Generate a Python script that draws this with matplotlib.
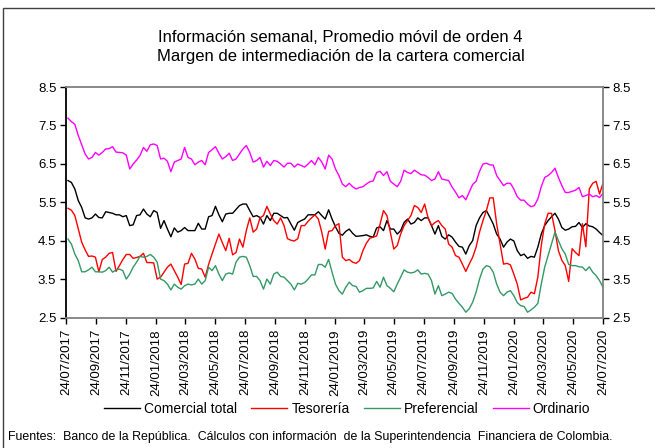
import matplotlib
matplotlib.use("Agg")
import matplotlib.pyplot as plt
import matplotlib.dates as mdates
import numpy as np
import pandas as pd
from matplotlib.patches import Rectangle

plt.rcParams['font.family'] = ['Liberation Sans', 'DejaVu Sans']

title = "Información semanal, Promedio móvil de orden 4\nMargen de intermediación de la cartera comercial"
source = "Fuentes:  Banco de la República.  Cálculos con información  de la Superintendencia  Financiera de Colombia."

tick_labels = ["24/07/2017", "24/09/2017", "24/11/2017", "24/01/2018", "24/03/2018",
               "24/05/2018", "24/07/2018", "24/09/2018", "24/11/2018", "24/01/2019",
               "24/03/2019", "24/05/2019", "24/07/2019", "24/09/2019", "24/11/2019",
               "24/01/2020", "24/03/2020", "24/05/2020", "24/07/2020"]
y_ticks = [2.5, 3.5, 4.5, 5.5, 6.5, 7.5, 8.5]

comercial_total = [
    6.07, 6.02, 5.85, 5.55, 5.37, 5.10, 5.07, 5.10, 5.20, 5.11,
    5.10, 5.26, 5.24, 5.22, 5.18, 5.18, 5.13, 5.16, 4.90, 4.92,
    5.16, 5.18, 5.33, 5.20, 5.13, 5.29, 5.24, 4.83, 5.03, 4.81,
    4.61, 4.84, 4.73, 4.77, 4.85, 4.77, 4.77, 4.77, 4.96, 4.81,
    4.81, 5.13, 5.16, 5.40, 5.18, 5.00, 5.20, 5.22, 5.22, 5.32,
    5.42, 5.46, 5.46, 5.29, 5.13, 5.16, 5.11, 4.94, 5.16, 5.03,
    5.22, 5.22, 5.16, 5.10, 5.11, 4.94, 4.78, 4.98, 5.03, 5.07,
    5.18, 5.18, 5.18, 5.26, 5.16, 5.07, 5.31, 5.07, 4.87, 4.70,
    4.65, 4.75, 4.81, 4.70, 4.62, 4.63, 4.64, 4.66, 4.62, 4.60,
    4.84, 4.87, 4.77, 5.03, 4.81, 4.81, 4.68, 4.77, 4.98, 5.07,
    4.94, 4.98, 5.10, 5.03, 5.10, 5.10, 4.90, 4.68, 4.90, 4.62,
    4.55, 4.66, 4.60, 4.47, 4.36, 4.34, 4.16, 4.38, 4.51, 4.90,
    5.10, 5.24, 5.29, 5.12, 4.94, 4.68, 4.55, 4.34, 4.47, 4.55,
    4.50, 4.25, 4.12, 4.16, 4.05, 4.10, 4.08, 4.34, 4.68, 4.90,
    5.03, 5.13, 5.22, 5.07, 4.85, 4.78, 4.81, 4.87, 4.88, 4.98,
    4.85, 4.95, 4.89, 4.87, 4.81, 4.72, 4.64]

tesoreria = [
    5.35, 5.30, 5.16, 4.81, 4.47, 4.27, 4.10, 4.11, 4.08, 3.70,
    4.02, 4.08, 4.18, 4.20, 3.71, 3.86, 4.02, 4.15, 4.15, 4.05,
    4.07, 4.10, 4.18, 3.94, 3.94, 3.93, 3.51, 3.56, 3.69, 3.82,
    3.90, 3.73, 3.56, 3.37, 3.90, 3.92, 4.18, 4.03, 3.79, 3.77,
    3.56, 3.89, 4.16, 4.42, 4.68, 4.46, 4.25, 4.57, 4.14, 4.20,
    4.55, 4.34, 4.77, 5.10, 4.73, 4.81, 5.10, 5.16, 5.40, 5.20,
    5.03, 4.94, 5.10, 4.90, 4.56, 4.52, 4.50, 4.56, 4.90, 4.90,
    5.01, 5.10, 5.18, 5.07, 4.73, 4.29, 4.75, 4.77, 4.90, 4.95,
    4.08, 3.99, 4.02, 3.95, 3.92, 3.99, 4.25, 4.44, 4.57, 4.60,
    4.63, 4.94, 5.29, 5.16, 4.73, 4.29, 4.38, 4.68, 4.90, 5.03,
    5.16, 5.42, 5.37, 5.24, 5.46, 5.10, 4.90, 4.98, 5.03, 4.90,
    4.81, 4.42, 4.34, 4.12, 4.08, 3.90, 3.71, 3.90, 4.08, 4.34,
    4.73, 5.03, 5.29, 5.62, 5.62, 4.94, 4.42, 3.90, 3.92, 3.88,
    3.64, 3.38, 2.97, 3.01, 3.04, 3.17, 3.13, 3.56, 4.38, 4.94,
    5.22, 5.22, 4.77, 4.25, 4.00, 3.86, 3.45, 4.30, 4.20, 4.12,
    4.95, 4.35, 5.85, 6.00, 6.05, 5.72, 6.00]

preferencial = [
    4.55, 4.42, 4.16, 3.99, 3.70, 3.70, 3.75, 3.82, 3.70, 3.70,
    3.69, 3.73, 3.82, 3.69, 3.75, 3.77, 3.73, 3.51, 3.64, 3.82,
    3.95, 4.10, 4.08, 4.10, 4.15, 4.08, 3.95, 3.51, 3.47, 3.38,
    3.23, 3.38, 3.30, 3.25, 3.34, 3.38, 3.36, 3.38, 3.51, 3.38,
    3.47, 3.82, 3.73, 3.86, 3.64, 3.47, 3.64, 3.67, 3.64, 3.95,
    4.08, 4.10, 4.08, 3.86, 3.58, 3.58, 3.47, 3.25, 3.51, 3.38,
    3.64, 3.69, 3.58, 3.56, 3.47, 3.38, 3.23, 3.40, 3.38, 3.42,
    3.51, 3.62, 3.62, 3.89, 3.89, 3.82, 4.02, 3.69, 3.38, 3.21,
    3.12, 3.30, 3.43, 3.34, 3.32, 3.17, 3.21, 3.27, 3.27, 3.28,
    3.45, 3.30, 3.56, 3.34, 3.27, 3.18, 3.38, 3.56, 3.75, 3.69,
    3.67, 3.69, 3.75, 3.64, 3.66, 3.64, 3.47, 3.12, 3.34, 3.08,
    3.12, 3.17, 3.14, 2.99, 2.88, 2.78, 2.65, 2.74, 2.91, 3.17,
    3.51, 3.77, 3.86, 3.83, 3.69, 3.38, 3.17, 3.08, 3.17, 3.21,
    3.08, 2.90, 2.82, 2.80, 2.65, 2.71, 2.78, 2.88, 3.38, 3.82,
    4.12, 4.42, 4.73, 4.51, 4.30, 4.16, 3.89, 3.86, 3.86, 3.83,
    3.82, 3.73, 3.83, 3.69, 3.60, 3.47, 3.30]

ordinario = [
    7.69, 7.60, 7.53, 7.24, 7.00, 6.76, 6.63, 6.67, 6.80, 6.73,
    6.80, 6.89, 6.90, 6.95, 6.81, 6.80, 6.79, 6.73, 6.37, 6.50,
    6.60, 6.72, 6.93, 6.83, 7.00, 7.02, 6.98, 6.63, 6.65, 6.57,
    6.30, 6.55, 6.59, 6.63, 6.93, 6.67, 6.63, 6.48, 6.55, 6.59,
    6.48, 6.80, 6.87, 6.95, 6.78, 6.63, 6.69, 6.78, 6.59, 6.63,
    6.76, 6.89, 6.98, 6.80, 6.55, 6.59, 6.67, 6.42, 6.57, 6.46,
    6.59, 6.57, 6.50, 6.42, 6.52, 6.52, 6.42, 6.50, 6.46, 6.42,
    6.50, 6.59, 6.48, 6.67, 6.55, 6.37, 6.73, 6.63, 6.37, 6.20,
    5.98, 5.91, 6.00, 5.91, 5.85, 5.89, 5.91, 5.98, 6.04, 6.06,
    6.28, 6.31, 6.20, 6.30, 6.05, 5.98, 5.91, 6.05, 6.34, 6.28,
    6.25, 6.34, 6.28, 6.22, 6.21, 6.15, 6.07, 6.11, 6.30, 6.11,
    6.09, 6.07, 5.90, 5.77, 5.62, 5.68, 5.57, 5.77, 5.97, 6.05,
    6.31, 6.50, 6.52, 6.48, 6.47, 6.20, 6.07, 5.94, 6.00, 6.00,
    5.85, 5.65, 5.56, 5.56, 5.46, 5.39, 5.42, 5.59, 5.91, 6.15,
    6.20, 6.28, 6.39, 6.15, 5.94, 5.76, 5.76, 5.79, 5.82, 5.89,
    5.65, 5.68, 5.72, 5.65, 5.68, 5.63, 5.74]

n = len(comercial_total)
dates = pd.date_range(end="2020-07-24", periods=n, freq="7D")
tick_dates = pd.to_datetime(tick_labels, format="%d/%m/%Y")

fig = plt.figure(figsize=(6.55, 4.48), dpi=100)
ax = fig.add_axes([0.1008, 0.2902, 0.8198, 0.5156])

ax.plot(dates, comercial_total, color="black", lw=1.0, label="Comercial total")
ax.plot(dates, tesoreria, color="#FF0000", lw=1.0, label="Tesorería")
ax.plot(dates, preferencial, color="#339966", lw=1.0, label="Preferencial")
ax.plot(dates, ordinario, color="#FF00FF", lw=1.0, label="Ordinario")

ax.set_xlim(tick_dates[0], tick_dates[-1])
ax.set_ylim(y_ticks[0], y_ticks[-1])
ax.set_yticks(y_ticks)
ax.set_yticklabels([f"{v:.1f}" for v in y_ticks])
ax.set_xticks(tick_dates)
ax.set_xticklabels(tick_labels, rotation=90)
ax.tick_params(axis="y", which="both", left=True, right=True, labelleft=True,
               labelright=True, direction="out", length=4, width=1,
               labelsize=9.5, colors="black", pad=3)
ax.tick_params(axis="x", direction="out", length=4, width=1, labelsize=9.5, pad=4)

for side in ["top", "right", "bottom"]:
    ax.spines[side].set_color("#808080")
    ax.spines[side].set_linewidth(1.3)
ax.spines["left"].set_color("black")
ax.spines["left"].set_linewidth(1.3)

fig.text(0.52, 0.895, title, ha="center", va="center", fontsize=12, linespacing=1.35)

fig.legend(loc="center", bbox_to_anchor=(0.53, 0.088), ncol=4, frameon=False,
           fontsize=10, handlelength=2.6, columnspacing=1.0, handletextpad=0.3)

fig.text(0.012, 0.025, source, ha="left", va="center", fontsize=8.9)

fig.patches.append(Rectangle((0.005, -0.02), 1.1, 1.002, transform=fig.transFigure,
                             fill=False, edgecolor="#404040", lw=1.0))

fig.savefig("out.png", dpi=100)
